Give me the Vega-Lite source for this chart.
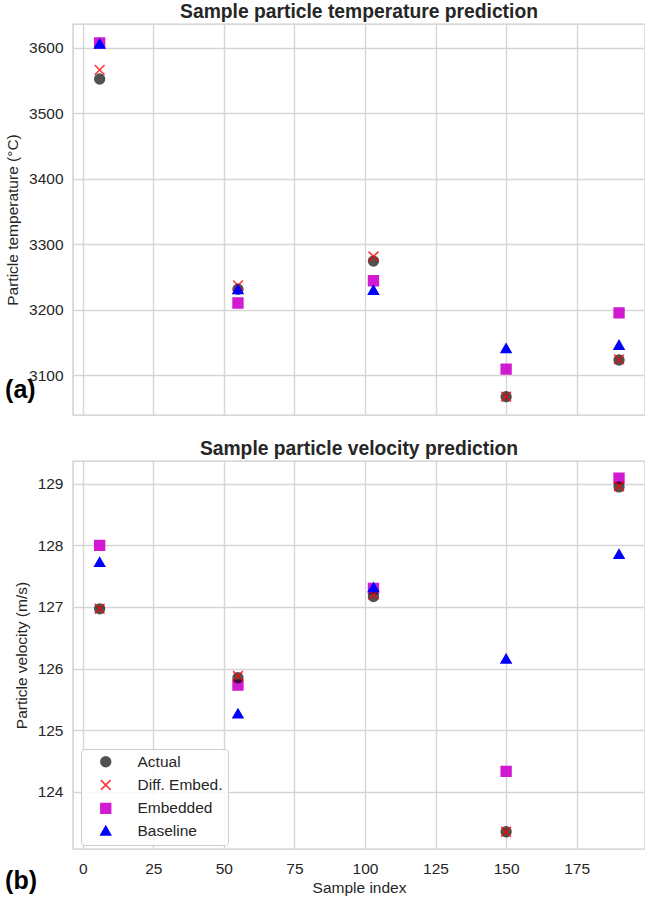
{
  "$schema": "https://vega.github.io/schema/vega-lite/v6.json",
  "padding": {"left": 4, "top": 2, "right": 2, "bottom": 2},
  "background": "white",
  "bounds": "flush",
  "spacing": 46,
  "config": {
    "font": "Liberation Sans",
    "view": {"stroke": "#cccccc", "strokeWidth": 1.4},
    "axis": {
      "grid": true, "gridColor": "#d6d6d6", "gridWidth": 1.4,
      "domain": false, "ticks": false, "format": "d",
      "labelFont": "Liberation Sans", "labelFontSize": 15.5, "labelColor": "#262626",
      "titleFont": "Liberation Sans", "titleFontSize": 15.5, "titleColor": "#262626", "titleFontWeight": "normal"
    },
    "title": {"font": "Liberation Sans", "fontSize": 19.3, "fontWeight": "bold", "color": "#262626", "offset": 2},
    "legend": {
      "labelFont": "Liberation Sans", "labelFontSize": 15.5, "labelColor": "#262626"
    }
  },
  "datasets": {
    "temp": [
      {"x": 6, "series": "Embedded", "value": 3607},
      {"x": 6, "series": "Actual", "value": 3552},
      {"x": 6, "series": "Diff. Embed.", "value": 3566},
      {"x": 6, "series": "Baseline", "value": 3606},
      {"x": 55, "series": "Embedded", "value": 3210},
      {"x": 55, "series": "Actual", "value": 3231},
      {"x": 55, "series": "Diff. Embed.", "value": 3237},
      {"x": 55, "series": "Baseline", "value": 3231},
      {"x": 103, "series": "Embedded", "value": 3244},
      {"x": 103, "series": "Actual", "value": 3274},
      {"x": 103, "series": "Diff. Embed.", "value": 3281},
      {"x": 103, "series": "Baseline", "value": 3230},
      {"x": 150, "series": "Embedded", "value": 3109},
      {"x": 150, "series": "Actual", "value": 3067},
      {"x": 150, "series": "Diff. Embed.", "value": 3067},
      {"x": 150, "series": "Baseline", "value": 3141},
      {"x": 190, "series": "Embedded", "value": 3195},
      {"x": 190, "series": "Actual", "value": 3123},
      {"x": 190, "series": "Diff. Embed.", "value": 3124},
      {"x": 190, "series": "Baseline", "value": 3146}
    ],
    "vel": [
      {"x": 6, "series": "Embedded", "value": 128.0},
      {"x": 6, "series": "Actual", "value": 126.97},
      {"x": 6, "series": "Diff. Embed.", "value": 126.97},
      {"x": 6, "series": "Baseline", "value": 127.73},
      {"x": 55, "series": "Embedded", "value": 125.73},
      {"x": 55, "series": "Actual", "value": 125.85},
      {"x": 55, "series": "Diff. Embed.", "value": 125.88},
      {"x": 55, "series": "Baseline", "value": 125.27},
      {"x": 103, "series": "Embedded", "value": 127.3},
      {"x": 103, "series": "Actual", "value": 127.17},
      {"x": 103, "series": "Diff. Embed.", "value": 127.2},
      {"x": 103, "series": "Baseline", "value": 127.32},
      {"x": 150, "series": "Embedded", "value": 124.33},
      {"x": 150, "series": "Actual", "value": 123.35},
      {"x": 150, "series": "Diff. Embed.", "value": 123.35},
      {"x": 150, "series": "Baseline", "value": 126.16},
      {"x": 190, "series": "Embedded", "value": 129.09},
      {"x": 190, "series": "Actual", "value": 128.95},
      {"x": 190, "series": "Diff. Embed.", "value": 128.96},
      {"x": 190, "series": "Baseline", "value": 127.86}
    ],
    "labA": [{"lbl": "(a)"}],
    "labB": [{"lbl": "(b)"}]
  },
  "resolve": {"legend": {"color": "independent", "stroke": "independent", "shape": "independent", "opacity": "independent"}},
  "vconcat": [
    {
      "width": 572,
      "height": 391,
      "title": "Sample particle temperature prediction",
      "layer": [
        {
          "data": {"name": "temp"},
          "mark": {"type": "point", "filled": true, "size": 95, "strokeWidth": 1.6},
          "encoding": {
            "x": {"field": "x", "type": "quantitative", "scale": {"domain": [-3.44, 199.2], "nice": false, "zero": false},
                  "axis": {"values": [0, 25, 50, 75, 100, 125, 150, 175], "labels": false, "title": null}},
            "y": {"field": "value", "type": "quantitative", "scale": {"domain": [3039, 3636], "nice": false, "zero": false},
                  "axis": {"values": [3100, 3200, 3300, 3400, 3500, 3600], "title": "Particle temperature (°C)", "labelPadding": 10, "titlePadding": 8}},
            "color": {"field": "series", "type": "nominal", "legend": null,
                      "scale": {"domain": ["Actual", "Diff. Embed.", "Embedded", "Baseline"], "range": ["#000000", "#ff0000", "#cc00cc", "#0000ff"]}},
            "stroke": {"field": "series", "type": "nominal", "legend": null,
                       "scale": {"domain": ["Actual", "Diff. Embed.", "Embedded", "Baseline"], "range": ["#000000", "#ff0000", "#cc00cc", "#0000ff"]}},
            "shape": {"field": "series", "type": "nominal", "legend": null,
                      "scale": {"domain": ["Actual", "Diff. Embed.", "Embedded", "Baseline"], "range": ["circle", "M-1,-1L1,1M-1,1L1,-1", "square", "triangle-up"]}},
            "opacity": {"field": "series", "type": "nominal", "legend": null,
                        "scale": {"domain": ["Actual", "Diff. Embed.", "Embedded", "Baseline"], "range": [0.68, 1, 0.62, 0.66]}}
          }
        },
        {
          "data": {"name": "labA"},
          "mark": {"type": "text", "fontSize": 25, "fontWeight": "bold", "align": "left", "baseline": "alphabetic", "color": "#000000"},
          "encoding": {
            "text": {"field": "lbl"},
            "x": {"datum": -27.5, "type": "quantitative"},
            "y": {"datum": 3065, "type": "quantitative"}
          }
        }
      ]
    },
    {
      "width": 572,
      "height": 388,
      "title": "Sample particle velocity prediction",
      "layer": [
        {
          "data": {"name": "vel"},
          "mark": {"type": "point", "filled": true, "size": 95, "strokeWidth": 1.6},
          "encoding": {
            "x": {"field": "x", "type": "quantitative", "scale": {"domain": [-3.44, 199.2], "nice": false, "zero": false},
                  "axis": {"values": [0, 25, 50, 75, 100, 125, 150, 175], "title": "Sample index", "labelPadding": 12, "titlePadding": 4}},
            "y": {"field": "value", "type": "quantitative", "scale": {"domain": [123.07, 129.37], "nice": false, "zero": false},
                  "axis": {"values": [124, 125, 126, 127, 128, 129], "title": "Particle velocity (m/s)", "labelPadding": 10, "titlePadding": 8}},
            "color": {"field": "series", "type": "nominal", "title": null,
                      "scale": {"domain": ["Actual", "Diff. Embed.", "Embedded", "Baseline"], "range": ["#000000", "#ff0000", "#cc00cc", "#0000ff"]},
                      "legend": {"orient": "none", "legendX": 8, "legendY": 288, "title": null, "padding": 5, "fillColor": "rgba(255,255,255,0.85)", "strokeColor": "#cccccc", "cornerRadius": 3, "symbolSize": 95, "symbolOffset": 12, "labelOffset": 24, "rowPadding": 5.3, "symbolStrokeWidth": 1.6}},
            "stroke": {"field": "series", "type": "nominal", "title": null,
                       "scale": {"domain": ["Actual", "Diff. Embed.", "Embedded", "Baseline"], "range": ["#000000", "#ff0000", "#cc00cc", "#0000ff"]},
                       "legend": {"orient": "none", "legendX": 8, "legendY": 288, "title": null}},
            "shape": {"field": "series", "type": "nominal", "title": null,
                      "scale": {"domain": ["Actual", "Diff. Embed.", "Embedded", "Baseline"], "range": ["circle", "M-1,-1L1,1M-1,1L1,-1", "square", "triangle-up"]},
                      "legend": {"orient": "none", "legendX": 8, "legendY": 288, "title": null}},
            "opacity": {"field": "series", "type": "nominal", "title": null,
                        "scale": {"domain": ["Actual", "Diff. Embed.", "Embedded", "Baseline"], "range": [0.68, 1, 0.62, 0.66]},
                        "legend": {"orient": "none", "legendX": 8, "legendY": 288, "title": null}}
          }
        },
        {
          "data": {"name": "labB"},
          "mark": {"type": "text", "fontSize": 25, "fontWeight": "bold", "align": "left", "baseline": "alphabetic", "color": "#000000"},
          "encoding": {
            "text": {"field": "lbl"},
            "x": {"datum": -27.5, "type": "quantitative"},
            "y": {"datum": 122.42, "type": "quantitative"}
          }
        }
      ]
    }
  ]
}
